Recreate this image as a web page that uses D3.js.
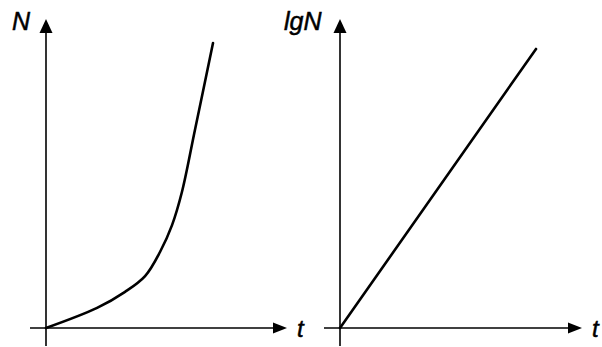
<!DOCTYPE html>
<html>
<head>
<meta charset="utf-8">
<script src="https://cdn.jsdelivr.net/npm/d3@7"></script>
<style>
  html, body { margin: 0; padding: 0; background: #fff; }
  svg { display: block; }
  text { font-family: "Liberation Sans", Arial, sans-serif; font-style: italic; fill: #000; }
</style>
</head>
<body>
<svg id="chart" width="602" height="347"></svg>
<script>
// ---- data (arbitrary units, t and N both 0..10) ----
const leftT = [0, 2.12, 3.28, 4.11, 4.73, 5.23, 5.64, 6.18, 6.93];
const leftN = [0, 0.65, 1.17, 1.68, 2.46, 3.33, 4.40, 6.41, 9.22];
const rightT = [0, 8.1];
const rightLgN = [0, 9.03];
const yLabels = ["N", "lgN"];
const xLabels = ["t", "t"];

const svg = d3.select("#chart");

const yScale = d3.scaleLinear().domain([0, 10]).range([328, 19]);
const panels = [
  { x: d3.scaleLinear().domain([0, 10]).range([46, 287]), T: leftT, V: leftN, curve: d3.curveCatmullRom.alpha(0.5), yl: yLabels[0], xl: xLabels[0], ylx: 12 },
  { x: d3.scaleLinear().domain([0, 10]).range([340, 582]), T: rightT, V: rightLgN, curve: d3.curveLinear, yl: yLabels[1], xl: xLabels[1], ylx: 284 }
];

const arrowLen = 14, arrowHalf = 6.5;

panels.forEach(p => {
  const g = svg.append("g");
  const x0 = p.x(0), y0 = yScale(0);
  const xEnd = p.x(10), yEnd = yScale(10);
  // x axis
  g.append("line")
    .attr("x1", x0 - 16).attr("y1", y0)
    .attr("x2", xEnd - arrowLen + 1).attr("y2", y0)
    .attr("stroke", "#000").attr("stroke-width", 1.6);
  g.append("path")
    .attr("d", `M${xEnd},${y0} L${xEnd - arrowLen},${y0 - arrowHalf + 1} L${xEnd - arrowLen},${y0 + arrowHalf - 1} Z`)
    .attr("fill", "#000");
  // y axis
  g.append("line")
    .attr("x1", x0).attr("y1", y0 + 18)
    .attr("x2", x0).attr("y2", yEnd + arrowLen - 1)
    .attr("stroke", "#000").attr("stroke-width", 1.6);
  g.append("path")
    .attr("d", `M${x0},${yEnd} L${x0 - arrowHalf},${yEnd + arrowLen} L${x0 + arrowHalf},${yEnd + arrowLen} Z`)
    .attr("fill", "#000");

  // curve
  const pts = p.T.map((t, i) => [p.x(t), yScale(p.V[i])]);
  g.append("path")
    .attr("d", d3.line().curve(p.curve)(pts))
    .attr("fill", "none")
    .attr("stroke", "#000")
    .attr("stroke-width", 2.6)
    .attr("stroke-linecap", "round");

  // labels
  g.append("text")
    .attr("x", p.ylx).attr("y", 30)
    .attr("font-size", 25)
    .attr("stroke", "#000").attr("stroke-width", 0.5)
    .text(p.yl);
  g.append("text")
    .attr("x", xEnd + 10).attr("y", 337)
    .attr("font-size", 24)
    .attr("stroke", "#000").attr("stroke-width", 0.5)
    .text(p.xl);
});
</script>
</body>
</html>
